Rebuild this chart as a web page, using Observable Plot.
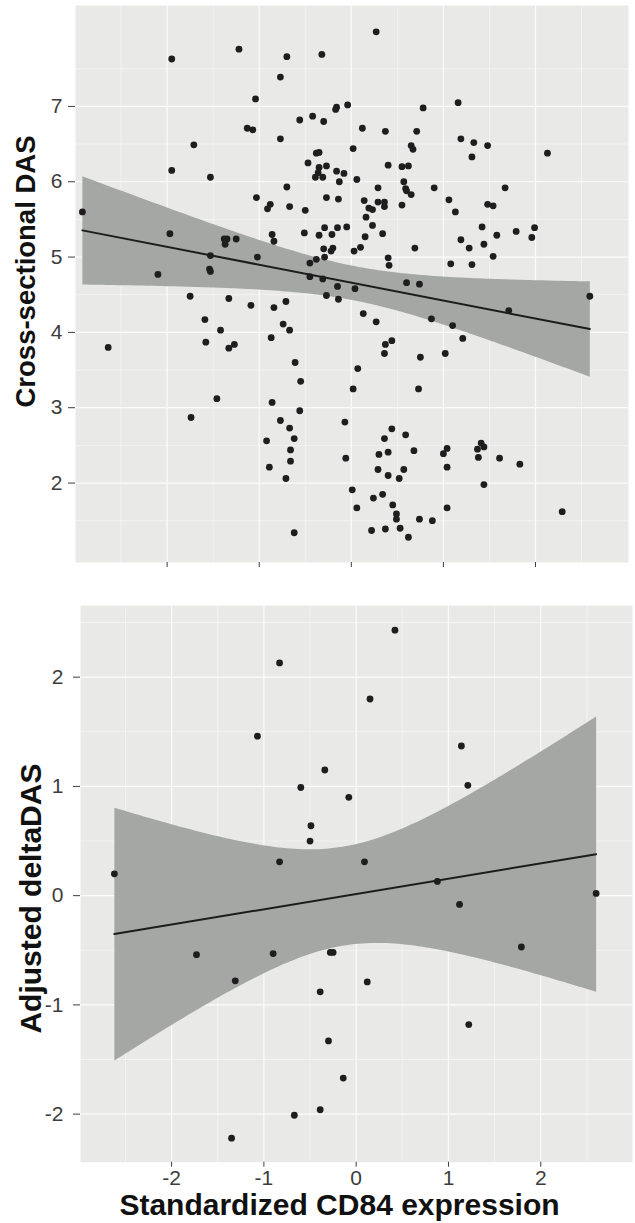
<!DOCTYPE html>
<html>
<head>
<meta charset="utf-8">
<script src="https://cdn.jsdelivr.net/npm/d3@7"></script>
<script src="https://cdn.jsdelivr.net/npm/@observablehq/plot@0.6"></script>
<style>
html, body { margin: 0; padding: 0; background: #ffffff; }
#chart { position: relative; width: 635px; height: 1223px; overflow: hidden; font-family: "Liberation Sans", Arial, Helvetica, sans-serif; }
#chart svg { position: absolute; left: 0; }
</style>
</head>
<body>
<div id="chart"></div>
<script>
// ---- Data ----
// Top panel: standardized CD84 expression vs cross-sectional DAS
const crossX = [
  -1.22,-1.95,-0.70,-0.32,-0.77,-1.04,-0.16,-0.17,-0.04,-0.56,-0.42,-0.30,-1.13,-1.07,-0.77,-1.71,-0.38,-0.35,-0.47,-0.35,
  -0.27,-0.36,-0.39,-0.31,-0.16,-0.08,-0.13,-1.95,-1.53,-0.70,
  0.27,0.78,1.16,0.12,0.37,0.71,1.19,1.33,1.48,1.31,2.13,0.02,0.65,0.67,0.40,0.55,0.62,0.06,0.57,
  0.29,0.59,0.60,0.65,0.90,1.67,0.14,0.29,0.36,0.36,0.55,1.06,1.13,0.19,0.23,0.16,1.48,1.54,0.23,0.34,
  0.15,1.42,1.79,1.99,1.58,1.96,1.19,1.28,1.44,0.69,0.10,0.03,0.40,0.41,1.08,1.31,1.54,0.60,0.74,0.04,
  2.59,1.71,0.13,0.27,0.87,1.10,1.21,0.44,0.37,0.36,0.75,1.02,0.07,
  -1.03,-0.88,-0.91,-0.67,-0.50,-0.27,-0.14,-2.92,-1.97,-1.38,-1.35,-1.37,-1.25,-0.86,-0.84,-0.51,-0.29,-0.15,-0.05,-0.35,
  -0.21,-0.30,-0.20,-0.22,-1.53,-1.02,-0.38,-0.29,-0.45,-1.54,-1.53,-2.10,-0.45,-0.31,-0.15,-0.27,-0.14,-1.75,-1.33,-1.09,
  -0.84,-0.71,-1.59,-1.42,-0.74,-0.67,-2.64,-1.58,-1.27,-1.33,-0.87,-0.61,
  -0.55,-1.46,-0.86,-0.56,-1.74,-0.77,-0.67,-0.07,-0.92,-0.62,-0.66,-0.66,-0.89,-0.06,-0.71,-0.62,
  0.02,0.73,0.44,0.59,0.36,0.30,0.40,0.68,0.29,0.40,0.52,0.57,0.01,0.24,0.34,0.06,0.45,0.49,0.49,0.74,
  0.88,0.22,0.37,0.53,0.62,1.04,1.00,1.04,1.04,1.41,1.37,1.44,1.38,1.61,1.83,1.44,2.29
];
const crossY = [
  7.76,7.63,7.66,7.69,7.39,7.10,6.99,6.96,7.02,6.82,6.87,6.80,6.71,6.69,6.57,6.49,6.38,6.39,6.25,6.19,
  6.21,6.12,6.06,6.06,6.14,6.11,6.00,6.15,6.06,5.93,
  7.99,6.98,7.05,6.71,6.67,6.67,6.57,6.52,6.48,6.33,6.38,6.44,6.48,6.43,6.22,6.20,6.21,6.03,6.00,
  5.92,5.91,5.88,5.83,5.92,5.92,5.75,5.73,5.73,5.67,5.69,5.76,5.60,5.65,5.63,5.53,5.70,5.68,5.42,5.31,
  5.27,5.40,5.34,5.39,5.29,5.26,5.23,5.12,5.17,5.12,5.13,5.08,4.99,4.89,4.91,4.90,5.01,4.66,4.64,4.58,
  4.48,4.29,4.25,4.14,4.18,4.09,3.92,3.89,3.84,3.72,3.67,3.72,3.52,
  5.79,5.70,5.64,5.67,5.62,5.79,5.77,5.60,5.31,5.24,5.24,5.17,5.24,5.30,5.21,5.32,5.39,5.39,5.40,5.29,
  5.30,5.11,5.12,5.08,5.02,5.00,4.97,5.00,4.92,4.84,4.81,4.77,4.74,4.71,4.61,4.49,4.44,4.48,4.45,4.36,
  4.33,4.41,4.17,4.03,4.11,4.03,3.80,3.87,3.84,3.79,3.93,3.60,
  3.35,3.12,3.07,2.96,2.87,2.83,2.73,2.81,2.56,2.59,2.44,2.29,2.21,2.33,2.06,1.34,
  3.25,3.25,2.72,2.64,2.59,2.38,2.41,2.43,2.18,2.10,2.06,2.18,1.91,1.80,1.85,1.67,1.71,1.59,1.52,1.52,
  1.50,1.37,1.39,1.40,1.28,2.46,2.39,2.21,1.67,2.53,2.45,2.48,2.34,2.33,2.25,1.98,1.62
];

// Bottom panel: standardized CD84 expression vs adjusted deltaDAS
const deltaX = [
  0.42,-0.83,0.15,-1.07,1.14,-0.34,-0.60,1.21,-0.08,-0.49,-0.50,-0.83,0.09,-2.62,0.88,2.60,1.12,
  -1.73,-0.90,-0.28,-0.25,1.79,-1.31,0.12,-0.39,1.22,-0.30,-0.14,-0.39,-0.67,-1.35
];
const deltaY = [
  2.43,2.13,1.80,1.46,1.37,1.15,0.99,1.01,0.90,0.64,0.50,0.31,0.31,0.20,0.13,0.02,-0.08,
  -0.54,-0.53,-0.52,-0.52,-0.47,-0.78,-0.79,-0.88,-1.18,-1.33,-1.67,-1.96,-2.01,-2.22
];

// Axis ticks and labels
const xTicks = [-2, -1, 0, 1, 2];
const xMinor = [-2.5, -1.5, -0.5, 0.5, 1.5, 2.5];
const crossTicks = [2, 3, 4, 5, 6, 7];
const crossMinor = [1.5, 2.5, 3.5, 4.5, 5.5, 6.5, 7.5];
const deltaTicks = [-2, -1, 0, 1, 2];
const deltaMinor = [-1.5, -0.5, 0.5, 1.5, 2.5];
const crossTitle = "Cross-sectional DAS";
const deltaTitle = "Adjusted deltaDAS";
const xTitle = "Standardized CD84 expression";

// ---- Styling ----
const panelFill = "#e9eae8";
const gridColor = "#fbfbfb";
const bandFill = "#a5a7a5";
const lineColor = "#1c1c1c";
const dotColor = "#1e1e1e";
const tickColor = "#3d3d3d";
const font = "'Liberation Sans', Arial, Helvetica, sans-serif";
const plainFormat = d => String(d);

const cross = crossX.map((x, i) => ({x, y: crossY[i]}));
const delta = deltaX.map((x, i) => ({x, y: deltaY[i]}));

function panelMarks(data, yTicks, yMinor) {
  return [
    Plot.frame({fill: panelFill, stroke: "none"}),
    Plot.gridX(xMinor, {stroke: gridColor, strokeOpacity: 0.85, strokeWidth: 0.6}),
    Plot.gridY(yMinor, {stroke: gridColor, strokeOpacity: 0.85, strokeWidth: 0.6}),
    Plot.gridX(xTicks, {stroke: gridColor, strokeOpacity: 1, strokeWidth: 1.2}),
    Plot.gridY(yTicks, {stroke: gridColor, strokeOpacity: 1, strokeWidth: 1.2}),
    Plot.linearRegressionY(data, {x: "x", y: "y", ci: 0.95, stroke: lineColor, strokeWidth: 2, fill: bandFill, fillOpacity: 1}),
    Plot.dot(data, {x: "x", y: "y", r: 3.4, fill: dotColor, stroke: "none"})
  ];
}

const topPlot = Plot.plot({
  width: 635,
  height: 590,
  marginTop: 5,
  marginBottom: 28,
  marginLeft: 75,
  marginRight: 7,
  style: {background: "transparent", fontFamily: font, overflow: "visible"},
  x: {domain: [-2.995, 3.01]},
  y: {domain: [0.945, 8.34]},
  marks: [
    ...panelMarks(cross, crossTicks, crossMinor),
    Plot.axisX({ticks: xTicks, tickFormat: () => "", tickSize: 5, color: tickColor, label: null}),
    Plot.axisY({ticks: crossTicks, tickFormat: plainFormat, tickSize: 7, tickPadding: 6, fontSize: 21, color: tickColor, label: null}),
    Plot.text([crossTitle], {text: d => d, frameAnchor: "left", textAnchor: "middle", dx: -49, dy: -12.5, rotate: -90,
      lineAnchor: "middle", fontSize: 27.5, fontWeight: "bold", fill: "#111"})
  ]
});
topPlot.style.top = "0px";

const bottomPlot = Plot.plot({
  width: 635,
  height: 633,
  marginTop: 15,
  marginBottom: 61.3,
  marginLeft: 80,
  marginRight: 3,
  style: {background: "transparent", fontFamily: font, overflow: "visible"},
  x: {domain: [-2.987, 2.994]},
  y: {domain: [-2.44, 2.656]},
  marks: [
    ...panelMarks(delta, deltaTicks, deltaMinor),
    Plot.axisX({ticks: xTicks, tickFormat: plainFormat, tickSize: 5, tickPadding: 3, fontSize: 21, color: tickColor, label: null}),
    Plot.axisY({ticks: deltaTicks, tickFormat: plainFormat, tickSize: 7, tickPadding: 10, fontSize: 21, color: tickColor, label: null}),
    Plot.text([deltaTitle], {text: d => d, frameAnchor: "left", textAnchor: "middle", dx: -49, dy: 14.7, rotate: -90,
      lineAnchor: "middle", fontSize: 30, fontWeight: "bold", fill: "#111"}),
    Plot.text([xTitle], {text: d => d, frameAnchor: "bottom", textAnchor: "middle", dx: -17, dy: 52.3,
      lineAnchor: "bottom", fontSize: 30, fontWeight: "bold", fill: "#111"})
  ]
});
bottomPlot.style.top = "590px";

const chart = document.getElementById("chart");
chart.appendChild(topPlot);
chart.appendChild(bottomPlot);
</script>
</body>
</html>
